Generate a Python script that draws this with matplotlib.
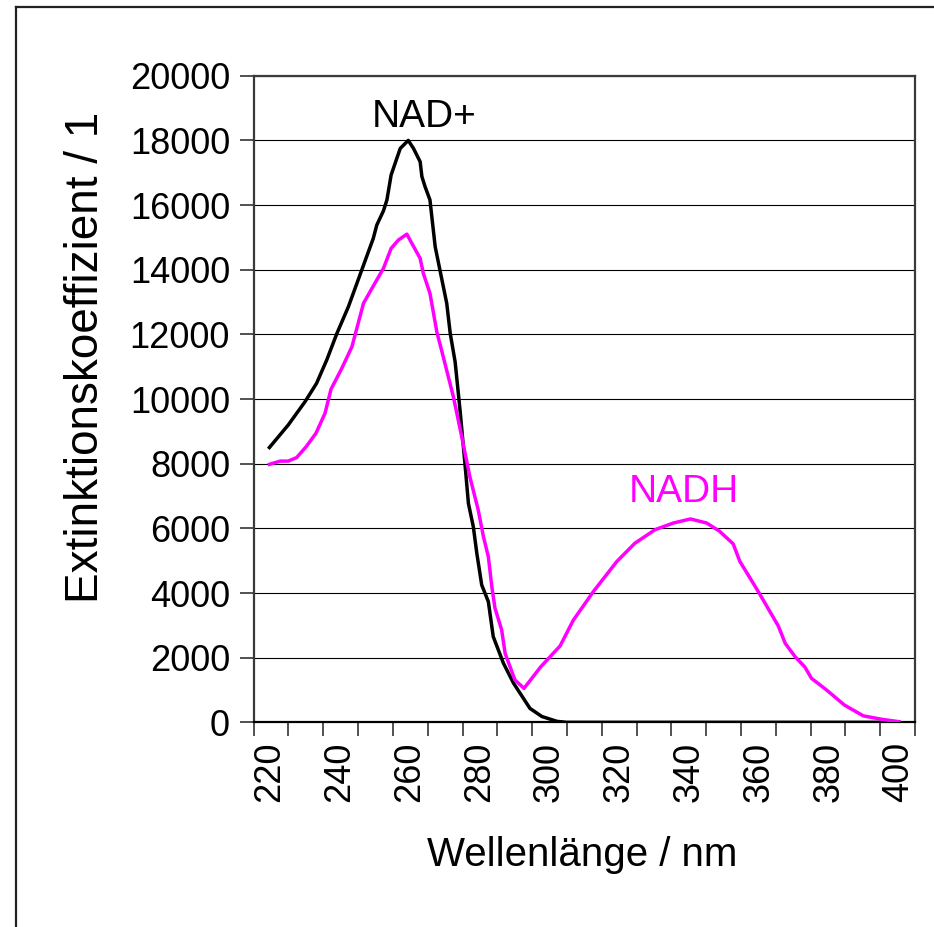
import numpy as np
import matplotlib.pyplot as plt
from matplotlib.lines import Line2D

plt.rcParams['font.family'] = ['Liberation Sans', 'DejaVu Sans']

# NAD+ spectrum (wavelength / nm, extinction coefficient)
nad_wl = [220, 225.4, 230.2, 233.5, 236.4, 239.3, 242.6, 246.4, 249.7, 250.7,
          252.6, 253.6, 254.8, 257.4, 259.7, 261.2, 263.1, 263.6, 264.5, 265.9,
          267.4, 270.7, 271.7, 273.1, 274.5, 275.9, 276.9, 278.3, 279.3, 280.7,
          282.6, 284.0, 286.9, 289.8, 294.5, 297.9, 302.2, 305, 400]
nad_eps = [8500, 9200, 9920, 10490, 11210, 12030, 12860, 13990, 14970, 15380,
           15820, 16160, 16930, 17750, 18000, 17750, 17340, 16880, 16570, 16160,
           14710, 12960, 12030, 11150, 9660, 8010, 6770, 6050, 5230, 4250,
           3730, 2650, 1830, 1210, 430, 180, 30, 0, 0]

# NADH spectrum
nadh_wl = [220, 223.1, 225.4, 227.8, 230.5, 233.3, 235.9, 237.6, 240.7, 243.6,
           246.9, 249.3, 252.6, 254.8, 256.9, 259.3, 260.7, 263.1, 264.0, 265.9,
           267.9, 269.7, 272.6, 275.0, 277.3, 279.7, 281.2, 282.6, 283.6, 284.5,
           286.4, 287.4, 290.2, 292.8, 297.6, 303.1, 306.9, 309.3, 312.6, 319.3,
           324.5, 330.3, 335.5, 340.4, 345.0, 348.6, 352.6, 354.5, 359.8, 365.5,
           367.5, 370.3, 373.1, 375.0, 379.3, 384.4, 389.8, 395.1, 400]
nadh_eps = [7980, 8080, 8080, 8190, 8525, 8940, 9560, 10300, 10950, 11620,
            12960, 13420, 14040, 14660, 14920, 15100, 14820, 14350, 13890, 13270,
            12060, 11310, 10070, 8830, 7600, 6570, 5740, 5120, 4190, 3530,
            2860, 2130, 1310, 1050, 1720, 2360, 3160, 3530, 4040, 4970,
            5540, 5960, 6165, 6290, 6165, 5920, 5520, 4980, 4040, 2980,
            2440, 2030, 1710, 1360, 1000, 535, 200, 93, 20]

x_labels = list(range(220, 401, 20))
y_ticks = list(range(0, 20001, 2000))

fig = plt.figure(figsize=(9.34, 9.27), dpi=100)
ax = fig.add_axes([0.2716, 0.2208, 0.7081, 0.6975])

ax.plot(nad_wl, nad_eps, color='black', lw=2.5, zorder=3)
ax.plot(nadh_wl, nadh_eps, color='#ff00ff', lw=2.5, zorder=3)

ax.set_xlim(215.5, 404.6)
ax.set_ylim(0, 20000)

ax.set_yticks(y_ticks)
ax.set_yticklabels([str(v) for v in y_ticks])
ax.yaxis.grid(True, color='black', lw=0.8)
ax.set_axisbelow(True)

ax.set_xticks(x_labels)
ax.set_xticklabels([str(v) for v in x_labels], rotation=90)
ax.set_xticks(np.linspace(215.5, 404.6, 20), minor=True)
ax.tick_params(axis='x', which='major', length=0, pad=14, labelsize=26)
ax.tick_params(axis='x', which='minor', length=10, width=1.2, color='#333333')
ax.tick_params(axis='y', length=10, width=1.2, color='#333333', pad=7, labelsize=26)

for side in ['left', 'top', 'right']:
    ax.spines[side].set_color('#3a3a3a')
    ax.spines[side].set_linewidth(1.6)
ax.spines['bottom'].set_color('black')
ax.spines['bottom'].set_linewidth(1.6)

ax.text(264.2, 18413, 'NAD+', fontsize=28, color='black', ha='center', va='baseline')
ax.text(338.5, 6823, 'NADH', fontsize=28, color='#ff00ff', ha='center', va='baseline')

fig.text(582 / 934, 1 - 855 / 927, 'Wellenlänge / nm', fontsize=29, ha='center', va='center')
fig.text(86 / 934, 1 - 357 / 927, 'Extinktionskoeffizient / 1', fontsize=33,
         rotation=90, ha='center', va='center')

# outer chart frame (only left and top edges are visible)
fig.add_artist(Line2D([16 / 934, 16 / 934], [0, 1 - 7 / 927], color='#222222', lw=1.6))
fig.add_artist(Line2D([16 / 934, 1], [1 - 7 / 927, 1 - 7 / 927], color='#222222', lw=1.6))

fig.savefig('out.png', dpi=100)
